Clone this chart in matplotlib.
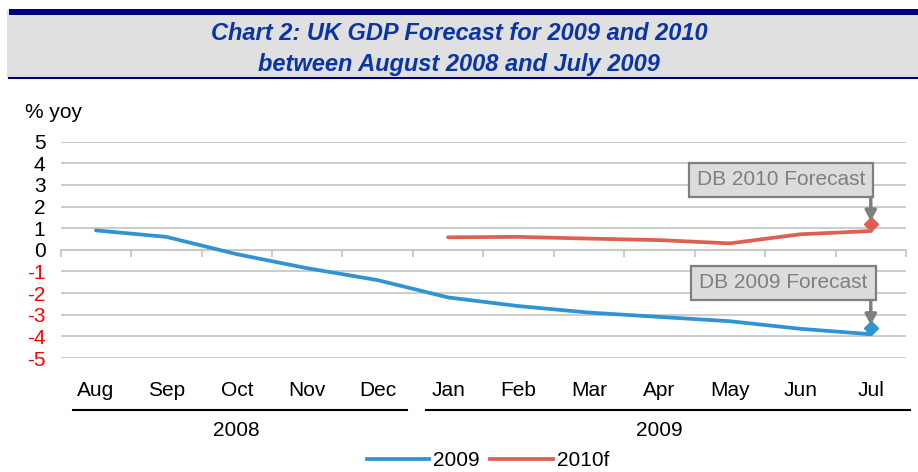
import matplotlib
matplotlib.use("Agg")
import matplotlib.pyplot as plt
import matplotlib.transforms as mtransforms
from matplotlib.patches import Rectangle
from matplotlib.lines import Line2D

plt.rcParams['font.family'] = ['Liberation Sans', 'DejaVu Sans']
plt.rcParams['axes.unicode_minus'] = False

months = ['Aug', 'Sep', 'Oct', 'Nov', 'Dec', 'Jan', 'Feb', 'Mar', 'Apr', 'May', 'Jun', 'Jul']
years = ['2008', '2009']
year_spans = [(0, 4), (5, 11)]
gdp_2009 = [0.9, 0.6, -0.2, -0.85, -1.4, -2.2, -2.6, -2.9, -3.1, -3.3, -3.65, -3.9]
gdp_2010 = [None, None, None, None, None, 0.58, 0.6, 0.52, 0.45, 0.3, 0.72, 0.87]
db_2009 = -3.6
db_2010 = 1.2

blue = '#2f93d4'
red = '#de6052'
navy = '#0a35a5'
grey = '#7f7f7f'

fig = plt.figure(figsize=(9.18, 4.72), dpi=100)

# title banner
fig.patches.append(Rectangle((7 / 918, 1 - 78 / 472), 911 / 918, 68 / 472, transform=fig.transFigure,
                             facecolor='#e0e0e0', edgecolor='none', zorder=0))
fig.patches.append(Rectangle((9 / 918, 1 - 15 / 472), 909 / 918, 6 / 472, transform=fig.transFigure,
                             facecolor='#000080', edgecolor='none', zorder=1))
fig.lines.append(Line2D([9 / 918, 1], [1 - 78 / 472] * 2, transform=fig.transFigure, color='#000080', lw=1.5))
fig.text(0.5, 1 - 33 / 472, 'Chart 2: UK GDP Forecast for 2009 and 2010', ha='center', va='center',
         fontsize=17, fontweight='bold', fontstyle='italic', color=navy)
fig.text(0.5, 1 - 64 / 472, 'between August 2008 and July 2009', ha='center', va='center',
         fontsize=17, fontweight='bold', fontstyle='italic', color=navy)

ax = fig.add_axes([60.7 / 918, 1 - 358 / 472, (906 - 60.7) / 918, (358 - 141.7) / 472])
x = list(range(len(months)))

ax.plot(x, gdp_2009, color=blue, lw=2.7, solid_capstyle='round', label='2009', zorder=3)
x10 = [i for i, v in zip(x, gdp_2010) if v is not None]
y10 = [v for v in gdp_2010 if v is not None]
ax.plot(x10, y10, color=red, lw=2.7, solid_capstyle='round', label='2010f', zorder=3)
ax.plot([11], [db_2009], marker='D', color=blue, ms=7, ls='none', zorder=4)
ax.plot([11], [db_2010], marker='D', color=red, ms=7, ls='none', zorder=4)

ax.set_xlim(-0.5, 11.5)
ax.set_ylim(-5, 5)
ax.set_yticks(range(-5, 6))
ax.yaxis.grid(True, color='#c8c8c8', lw=1.3)
ax.set_axisbelow(True)
for s in ['top', 'right', 'left']:
    ax.spines[s].set_visible(False)
ax.spines['bottom'].set_position(('data', 0))
ax.spines['bottom'].set_color('#c8c8c8')
ax.spines['bottom'].set_linewidth(1.3)
ax.set_xticks([i - 0.5 for i in range(len(months) + 1)])
ax.set_xticklabels([])
ax.tick_params(axis='x', direction='out', length=5, color='#c8c8c8', width=1.3)
ax.tick_params(axis='y', length=0, labelsize=15, pad=11)
for lab, v in zip(ax.get_yticklabels(), range(-5, 6)):
    lab.set_color('red' if v < 0 else 'black')

fig.text(25 / 918, 1 - 113 / 472, '% yoy', ha='left', va='center', fontsize=15)

# month and year category labels
trans = mtransforms.blended_transform_factory(ax.transData, fig.transFigure)
for i, m in enumerate(months):
    ax.text(i, 1 - 390 / 472, m, transform=trans, ha='center', va='center', fontsize=15)
for yr, (a, b) in zip(years, year_spans):
    ax.add_line(Line2D([a - 0.32, b + 0.42 if b < 11 else b + 0.55], [1 - 410 / 472] * 2, transform=trans,
                       color='black', lw=1.5, clip_on=False))
    ax.text((a + b) / 2, 1 - 430 / 472, yr, transform=trans, ha='center', va='center', fontsize=15)

# forecast callouts
box = dict(boxstyle='square,pad=0.38', facecolor='#dcdcdc', edgecolor=grey, lw=1.6)
ax.text(9.73, 3.23, 'DB 2010 Forecast', ha='center', va='center', fontsize=15, color=grey, bbox=box, zorder=5)
ax.text(9.76, -1.53, 'DB 2009 Forecast', ha='center', va='center', fontsize=15, color=grey, bbox=box, zorder=5)
arrow = dict(arrowstyle='-|>,head_length=0.55,head_width=0.3', color=grey, lw=2.5, mutation_scale=11,
             shrinkA=0, shrinkB=2)
ax.annotate('', xy=(11, db_2010), xytext=(11, 2.43), arrowprops=arrow, zorder=5)
ax.annotate('', xy=(11, db_2009), xytext=(11, -2.36), arrowprops=arrow, zorder=5)

handles = [Line2D([], [], color=blue, lw=2.7), Line2D([], [], color=red, lw=2.7)]
fig.legend(handles, ['2009', '2010f'], loc='center', bbox_to_anchor=(488 / 918, 1 - 461 / 472), ncol=2,
           frameon=False, fontsize=15, handlelength=3, handletextpad=0.2, columnspacing=0.5)

fig.savefig('out.png', dpi=100)
